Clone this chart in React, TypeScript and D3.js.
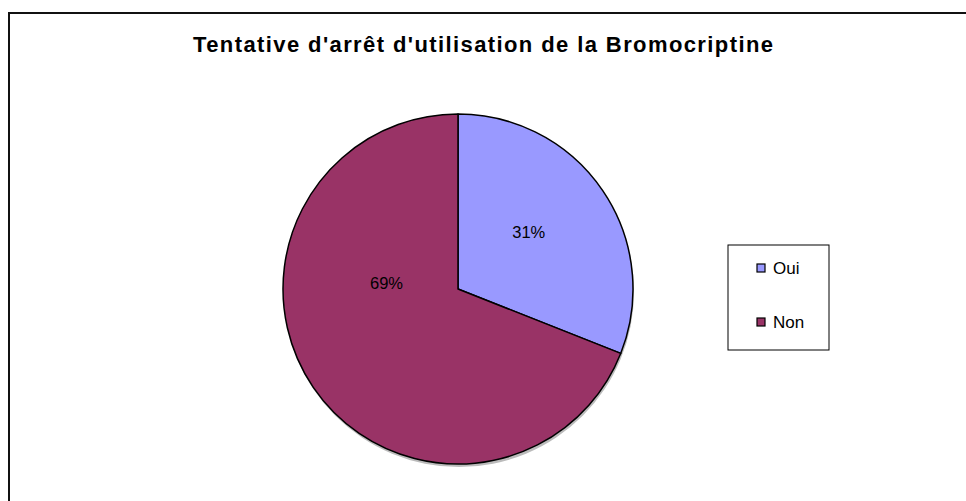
import React, { useEffect, useRef } from 'react';
import * as d3 from 'd3';

const title = "Tentative d'arrêt d'utilisation de la Bromocriptine";
const categories = ['Oui', 'Non'];
const values = [31, 69];
const colors = ['#9999FF', '#993366'];

const App = () => {
  const svgRef = useRef<SVGSVGElement>(null);

  useEffect(() => {
    const svg = d3.select(svgRef.current);
    svg.selectAll('*').remove();
    const font = 'Liberation Sans, Arial, sans-serif';

    // chart frame (right / bottom edges fall outside the picture)
    svg.append('rect')
      .attr('x', 9).attr('y', 13)
      .attr('width', 1000).attr('height', 600)
      .attr('fill', 'white')
      .attr('stroke', '#111').attr('stroke-width', 2);

    svg.append('text')
      .attr('x', 483).attr('y', 52)
      .attr('text-anchor', 'middle')
      .attr('font-family', font)
      .attr('font-weight', 'bold')
      .attr('font-size', 22)
      .attr('textLength', 580)
      .attr('lengthAdjust', 'spacing')
      .text(title);

    const cx = 458, cy = 289, r = 175;
    const data = categories.map((c, i) => ({ label: c, value: values[i], color: colors[i] }));
    const pie = d3.pie<any>().value(d => d.value).sort(null);
    const arcs = pie(data);
    const arc = d3.arc<any>().innerRadius(0).outerRadius(r);

    const g = svg.append('g').attr('transform', `translate(${cx},${cy})`);

    // soft shadow under the pie
    g.append('circle')
      .attr('cx', 1).attr('cy', 3).attr('r', r)
      .attr('fill', '#bbb');

    g.selectAll('path')
      .data(arcs)
      .join('path')
        .attr('d', arc)
        .attr('fill', d => d.data.color)
        .attr('stroke', '#000')
        .attr('stroke-width', 1.5)
        .attr('stroke-linejoin', 'round');

    // Excel-style label placement: angle / radius fraction per slice
    const labelSpots = [
      { angle: 51, rf: 0.52 },
      { angle: 275, rf: 0.41 },
    ];
    const rad = (deg: number) => (deg * Math.PI) / 180;
    g.selectAll('.pct')
      .data(arcs)
      .join('text')
        .attr('class', 'pct')
        .attr('x', (d, i) => Math.sin(rad(labelSpots[i].angle)) * r * labelSpots[i].rf)
        .attr('y', (d, i) => -Math.cos(rad(labelSpots[i].angle)) * r * labelSpots[i].rf)
        .attr('dy', '0.35em')
        .attr('text-anchor', 'middle')
        .attr('font-family', font)
        .attr('font-size', 16.5)
        .text(d => `${d.data.value}%`);

    // legend
    const lg = svg.append('g').attr('transform', 'translate(728,245)');
    lg.append('rect')
      .attr('width', 101).attr('height', 105)
      .attr('fill', 'white')
      .attr('stroke', '#000').attr('stroke-width', 1);

    const y = d3.scalePoint().domain(categories).range([23, 77]);
    const items = lg.selectAll('.item')
      .data(data)
      .join('g')
        .attr('class', 'item')
        .attr('transform', d => `translate(0,${y(d.label)})`);
    items.append('rect')
      .attr('x', 29).attr('y', -4)
      .attr('width', 8).attr('height', 8)
      .attr('fill', d => d.color)
      .attr('stroke', '#000').attr('stroke-width', 1.2);
    items.append('text')
      .attr('x', 45).attr('y', 0)
      .attr('dy', '0.35em')
      .attr('font-family', font)
      .attr('font-size', 17)
      .text(d => d.label);
  }, []);

  return (
    <svg ref={svgRef} width={966} height={501}
      style={{ position: 'absolute', left: 0, top: 0, background: 'white' }} />
  );
};

export default App;
